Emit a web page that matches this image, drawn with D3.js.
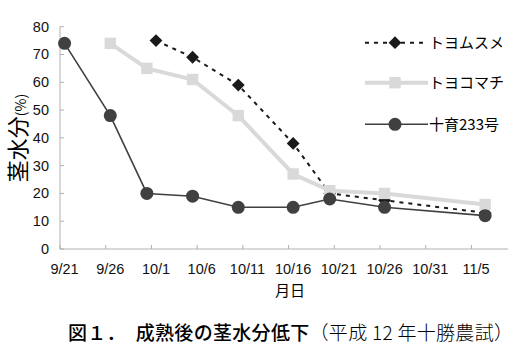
<!DOCTYPE html>
<html>
<head>
<meta charset="utf-8">
<script src="https://cdn.jsdelivr.net/npm/d3@7"></script>
<style>
body { margin: 0; background: #fff; }
text { font-family: "Liberation Sans", Arial, sans-serif; }
.jp { font-family: "Noto Sans CJK JP", sans-serif; }
</style>
</head>
<body>
<div id="chart"></div>
<script>
// dates measured (month is 1-based here)
var toyomusumeDates = ["10/1", "10/5", "10/10", "10/16", "10/20", "10/26", "11/6"];
var toyomusumeValues = [75, 69, 59, 38, 20, 17.5, 13];
var toyokomachiDates = ["9/26", "9/30", "10/5", "10/10", "10/16", "10/20", "10/26", "11/6"];
var toyokomachiValues = [74, 65, 61, 48, 27, 21, 20, 16];
var juiku233Dates = ["9/21", "9/26", "9/30", "10/5", "10/10", "10/16", "10/20", "10/26", "11/6"];
var juiku233Values = [74, 48, 20, 19, 15, 15, 18, 15, 12];
var seriesNames = ["トヨムスメ", "トヨコマチ", "十育233号"];
var xTickLabels = ["9/21", "9/26", "10/1", "10/6", "10/11", "10/16", "10/21", "10/26", "10/31", "11/5"];
var yTicks = [0, 10, 20, 30, 40, 50, 60, 70, 80];

var width = 531, height = 354;
var svg = d3.select("#chart").append("svg")
  .attr("width", width)
  .attr("height", height);

function toDate(s, half) {
  var p = s.split("/");
  return new Date(Date.UTC(2000, +p[0] - 1, +p[1], half ? 12 : 0));
}

var x = d3.scaleUtc()
  .domain([toDate("9/21"), toDate("11/9")])
  .range([60, 508]);
var y = d3.scaleLinear()
  .domain([0, 80])
  .range([249, 26.7]);

// axes
var axisColor = "#b0b0b0";
svg.append("line")
  .attr("x1", x.range()[0]).attr("x2", x.range()[0])
  .attr("y1", y(0)).attr("y2", y(80))
  .style("stroke", axisColor);
svg.append("line")
  .attr("x1", x.range()[0]).attr("x2", x.range()[1])
  .attr("y1", y(0)).attr("y2", y(0))
  .style("stroke", axisColor);

svg.selectAll(".ytick").data(yTicks).enter().append("line")
  .attr("x1", x.range()[0]).attr("x2", x.range()[0] + 4)
  .attr("y1", function(d) { return y(d); })
  .attr("y2", function(d) { return y(d); })
  .style("stroke", axisColor);
svg.selectAll(".ylab").data(yTicks).enter().append("text")
  .attr("x", 49)
  .attr("y", function(d) { return y(d) + 5; })
  .attr("text-anchor", "end")
  .style("font-size", "14.5px")
  .style("fill", "#111")
  .text(function(d) { return d; });

svg.selectAll(".xtick").data(xTickLabels).enter().append("line")
  .attr("x1", function(d) { return x(toDate(d)); })
  .attr("x2", function(d) { return x(toDate(d)); })
  .attr("y1", y(0)).attr("y2", y(0) - 4)
  .style("stroke", axisColor);
svg.selectAll(".xlab").data(xTickLabels).enter().append("text")
  .attr("x", function(d) { return x(toDate(d, true)); })
  .attr("y", 274)
  .attr("text-anchor", "middle")
  .style("font-size", "14.5px")
  .style("fill", "#111")
  .text(function(d) { return d; });

// axis titles
svg.append("text")
  .attr("class", "jp")
  .attr("x", 290).attr("y", 295.5)
  .attr("text-anchor", "middle")
  .style("font-size", "15px")
  .text("月日");
svg.append("text")
  .attr("class", "jp")
  .attr("transform", "translate(26,138) rotate(-90)")
  .attr("text-anchor", "middle")
  .style("font-size", "22px")
  .text("茎水分")
  .append("tspan")
  .style("font-size", "14px")
  .text("(%)");

// series
var line = d3.line()
  .x(function(d) { return x(d.date); })
  .y(function(d) { return y(d.value); });

function pack(dates, values) {
  return dates.map(function(d, i) { return {date: toDate(d, true), value: values[i]}; });
}
var dataMusume = pack(toyomusumeDates, toyomusumeValues);
var dataKomachi = pack(toyokomachiDates, toyokomachiValues);
var dataJuiku = pack(juiku233Dates, juiku233Values);

var diamond = d3.symbol().type(d3.symbolDiamond2).size(105);
var square = d3.symbol().type(d3.symbolSquare).size(130);

// トヨムスメ
svg.append("path").datum(dataMusume)
  .attr("d", line)
  .style("fill", "none")
  .style("stroke", "#1a1a1a")
  .style("stroke-width", 2)
  .style("stroke-dasharray", "4,5");
svg.selectAll(".dia").data(dataMusume).enter().append("path")
  .attr("transform", function(d) { return "translate(" + x(d.date) + "," + y(d.value) + ")"; })
  .attr("d", diamond)
  .style("fill", "#1a1a1a");

// トヨコマチ
svg.append("path").datum(dataKomachi)
  .attr("d", line)
  .style("fill", "none")
  .style("stroke", "#d9d9d9")
  .style("stroke-width", 4);
svg.selectAll(".sq").data(dataKomachi).enter().append("path")
  .attr("transform", function(d) { return "translate(" + x(d.date) + "," + y(d.value) + ")"; })
  .attr("d", square)
  .style("fill", "#d9d9d9");

// 十育233号
svg.append("path").datum(dataJuiku)
  .attr("d", line)
  .style("fill", "none")
  .style("stroke", "#404040")
  .style("stroke-width", 1.6);
svg.selectAll(".ci").data(dataJuiku).enter().append("circle")
  .attr("cx", function(d) { return x(d.date); })
  .attr("cy", function(d) { return y(d.value); })
  .attr("r", 6.5)
  .style("fill", "#404040");

// legend
var legY = [42.7, 82.7, 124.3];
var leg = svg.selectAll(".leg").data(seriesNames).enter().append("g")
  .attr("transform", function(d, i) { return "translate(0," + legY[i] + ")"; });
leg.append("line")
  .attr("x1", 365).attr("x2", 428)
  .attr("y1", 0).attr("y2", 0)
  .style("stroke", function(d, i) { return ["#1a1a1a", "#d9d9d9", "#404040"][i]; })
  .style("stroke-width", function(d, i) { return [2, 4, 1.6][i]; })
  .style("stroke-dasharray", function(d, i) { return i == 0 ? "4,5" : null; });
leg.each(function(d, i) {
  var g = d3.select(this);
  if (i == 0) g.append("path").attr("transform", "translate(395,0)").attr("d", diamond).style("fill", "#1a1a1a");
  if (i == 1) g.append("path").attr("transform", "translate(395,0)").attr("d", square).style("fill", "#d9d9d9");
  if (i == 2) g.append("circle").attr("cx", 395).attr("cy", 0).attr("r", 6.5).style("fill", "#404040");
});
leg.append("text")
  .attr("class", "jp")
  .attr("x", 429).attr("y", 5.5)
  .style("font-size", "15px")
  .text(function(d) { return d; });

// caption
var cap = svg.append("text")
  .attr("class", "jp")
  .attr("x", 68).attr("y", 340)
  .attr("textLength", 445)
  .style("font-size", "19px");
cap.append("tspan").style("font-weight", "500").text("図１．　成熟後の茎水分低下");
cap.append("tspan").style("font-weight", "300").text("（平成 12 年十勝農試）");
</script>
</body>
</html>
